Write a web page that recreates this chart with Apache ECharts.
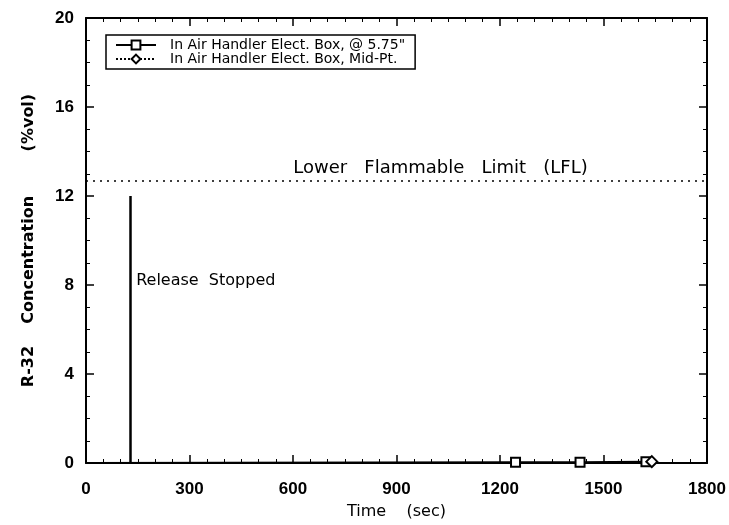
<!DOCTYPE html>
<html>
<head>
<meta charset="utf-8">
<script src="https://cdn.jsdelivr.net/npm/echarts@6/dist/echarts.min.js"></script>
<style>
  html, body { margin: 0; padding: 0; background: #fff; }
  #chart { width: 729px; height: 525px; }
</style>
</head>
<body>
<div id="chart"></div>
<script>
// data
var xTicks = [0, 300, 600, 900, 1200, 1500, 1800];
var yTicks = [0, 4, 8, 12, 16, 20];
var boxTopTime = [0, 1245, 1432, 1623];
var boxTopConc = [0.0, 0.03, 0.03, 0.06];
var boxMidTime = [1640];
var boxMidConc = [0.06];
var lflValue = 12.7;
var releaseTime = 128;
var releasePeak = 12;

var chart = echarts.init(document.getElementById('chart'));

var topData = boxTopTime.map(function (t, i) {
    var item = { value: [t, boxTopConc[i]] };
    if (i === 0) item.symbol = 'none';
    return item;
});
var midData = boxMidTime.map(function (t, i) { return [t, boxMidConc[i]]; });

var font = 'Liberation Sans';
var tickLbl = { color: '#000', fontSize: 17, fontWeight: 'bold', fontFamily: font, formatter: function (v) { return String(v); } };
var frameLine = { onZero: false, lineStyle: { color: '#000', width: 2 } };
var majTick = { inside: true, length: 8, lineStyle: { color: '#000', width: 1.5 } };

var option = {
    animation: false,
    grid: { left: 86, right: 22, top: 18, bottom: 62, outerBoundsMode: 'none', containLabel: false },
    legend: {
        orient: 'vertical',
        left: 106, top: 35,
        borderColor: '#000', borderWidth: 1.5,
        padding: [3, 10, 3, 9],
        itemGap: 0,
        itemWidth: 40, itemHeight: 11,
        textStyle: { color: '#000', fontSize: 14, fontFamily: 'DejaVu Sans', padding: [0, 0, 0, 9], lineHeight: 14 },
        data: ['In Air Handler Elect. Box, @ 5.75"', 'In Air Handler Elect. Box, Mid-Pt.']
    },
    xAxis: [{
        type: 'value', min: xTicks[0], max: xTicks[xTicks.length - 1], interval: 300,
        name: 'Time    (sec)', nameLocation: 'middle', nameGap: 41,
        nameTextStyle: { color: '#000', fontSize: 16, fontFamily: 'DejaVu Sans' },
        axisLine: frameLine,
        axisTick: majTick,
        minorTick: { show: true, splitNumber: 6, length: 4, lineStyle: { color: '#000' } },
        axisLabel: Object.assign({ margin: 18 }, tickLbl),
        splitLine: { show: false }
    }, {
        type: 'value', position: 'top', min: 0, max: 1800, interval: 300,
        axisLine: frameLine,
        axisTick: majTick,
        minorTick: { show: true, splitNumber: 6, length: 4, lineStyle: { color: '#000' } },
        axisLabel: { show: false },
        splitLine: { show: false }
    }],
    yAxis: [{
        type: 'value', min: yTicks[0], max: yTicks[yTicks.length - 1], interval: 4,
        name: 'R-32    Concentration        (%vol)', nameLocation: 'middle', nameGap: 49,
        nameTextStyle: { color: '#000', fontSize: 16, fontWeight: 'bold', fontFamily: 'DejaVu Sans' },
        axisLine: frameLine,
        axisTick: majTick,
        minorTick: { show: true, splitNumber: 4, length: 4, lineStyle: { color: '#000' } },
        axisLabel: Object.assign({ margin: 12 }, tickLbl),
        splitLine: { show: false }
    }, {
        type: 'value', position: 'right', min: 0, max: 20, interval: 4,
        axisLine: Object.assign({ show: true }, frameLine),
        axisTick: Object.assign({ show: true }, majTick),
        minorTick: { show: true, splitNumber: 4, length: 4, lineStyle: { color: '#000' } },
        axisLabel: { show: false },
        splitLine: { show: false }
    }],
    series: [
        {
            name: 'In Air Handler Elect. Box, @ 5.75"',
            type: 'line',
            data: topData,
            symbol: 'rect', symbolSize: 9,
            lineStyle: { color: '#000', width: 2 },
            itemStyle: { color: '#fff', borderColor: '#000', borderWidth: 2 },
            markLine: {
                silent: true, symbol: 'none',
                lineStyle: { color: '#000', type: 'solid', width: 2.5 },
                label: { show: false },
                data: [[{ coord: [releaseTime, 0] }, { coord: [releaseTime, releasePeak] }]]
            },
            markPoint: {
                silent: true, symbol: 'rect', symbolSize: 0,
                label: {
                    show: true, position: 'right', distance: 6,
                    formatter: 'Release  Stopped',
                    color: '#000', fontSize: 16, fontFamily: 'DejaVu Sans'
                },
                data: [{ coord: [releaseTime, 8.2] }]
            }
        },
        {
            name: 'In Air Handler Elect. Box, Mid-Pt.',
            type: 'line',
            data: midData,
            symbol: 'diamond', symbolSize: 11,
            lineStyle: { color: '#000', width: 2, type: 'dotted' },
            itemStyle: { color: '#fff', borderColor: '#000', borderWidth: 2 },
            markLine: {
                silent: true, symbol: 'none',
                lineStyle: { color: '#000', type: [2, 5], width: 1.5 },
                label: {
                    show: true, position: 'insideMiddleTop',
                    formatter: 'Lower   Flammable   Limit   (LFL)',
                    color: '#000', fontSize: 18, fontFamily: 'DejaVu Sans',
                    offset: [44, 0], distance: 3
                },
                data: [[{ coord: [0, lflValue] }, { coord: [1800, lflValue] }]]
            }
        }
    ]
};
chart.setOption(option);
</script>
</body>
</html>
